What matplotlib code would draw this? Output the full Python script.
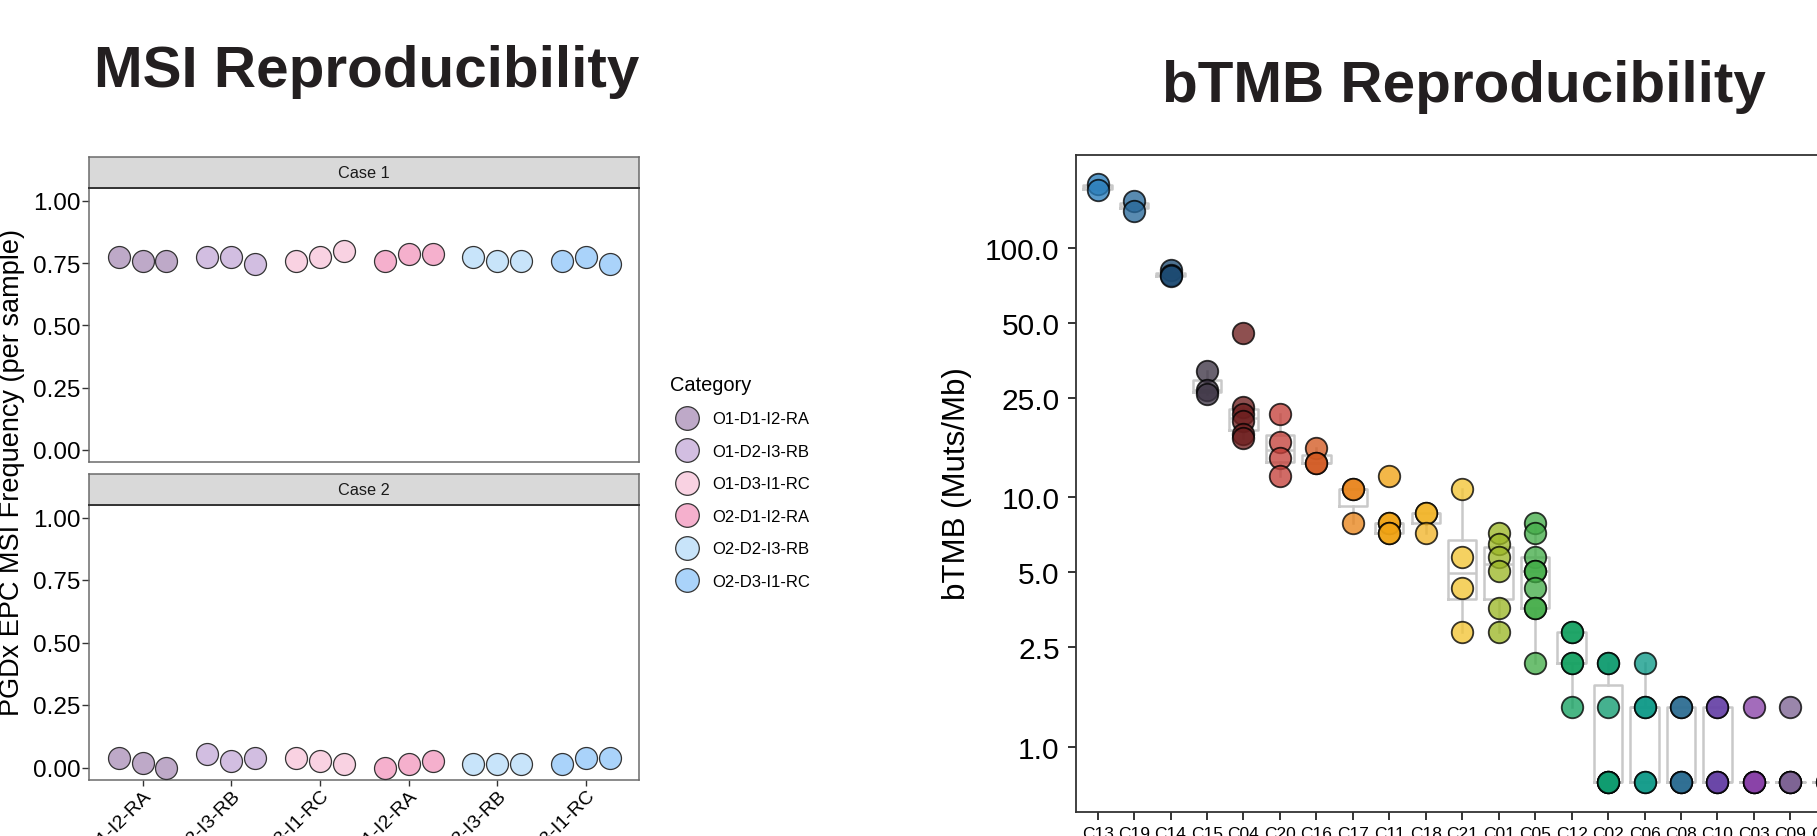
import numpy as np
import matplotlib
matplotlib.use("Agg")
import matplotlib.pyplot as plt
from matplotlib import cbook
from matplotlib.lines import Line2D

plt.rcParams['font.family'] = ['Liberation Sans', 'DejaVu Sans']

W, H, DPI = 1817, 837, 100

# ---- MSI data ----
msi_categories = ['O1-D1-I2-RA', 'O1-D2-I3-RB', 'O1-D3-I1-RC',
                  'O2-D1-I2-RA', 'O2-D2-I3-RB', 'O2-D3-I1-RC']
msi_colors = ['#BEA9C8', '#D2BEE1', '#F9D2E2', '#F5B0CD', '#C8E4FA', '#AAD3FA']
case1_values = [[0.773, 0.760, 0.760],
                [0.773, 0.773, 0.747],
                [0.760, 0.773, 0.800],
                [0.760, 0.787, 0.787],
                [0.773, 0.760, 0.760],
                [0.760, 0.773, 0.747]]
case2_values = [[0.040, 0.020, 0.000],
                [0.053, 0.027, 0.040],
                [0.040, 0.027, 0.013],
                [0.000, 0.013, 0.027],
                [0.013, 0.013, 0.013],
                [0.013, 0.040, 0.040]]
msi_yticks = [0.0, 0.25, 0.5, 0.75, 1.0]

# ---- bTMB data ----
tmb_cases = ['C13', 'C19', 'C14', 'C15', 'C04', 'C20', 'C16', 'C17', 'C11', 'C18', 'C21',
             'C01', 'C05', 'C12', 'C02', 'C06', 'C08', 'C10', 'C03', 'C09', 'C07']
tmb_values = [
    [180.7, 170.6],
    [154.8, 141.1],
    [81.4, 77.8, 77.0],
    [32.2, 27.0, 26.0],
    [45.4, 23.0, 21.6, 20.2, 18.0, 17.3],
    [21.6, 16.6, 14.4, 12.2],
    [15.8, 13.7, 13.7],
    [10.8, 10.8, 7.9],
    [12.2, 7.9, 7.9, 7.2, 7.2],
    [8.64, 8.64, 7.2],
    [10.8, 5.76, 4.32, 2.88],
    [7.2, 6.48, 5.76, 5.04, 3.6, 2.88],
    [7.92, 7.2, 5.76, 5.04, 5.04, 4.32, 3.6, 3.6, 2.16],
    [2.88, 2.88, 2.16, 2.16, 1.44],
    [2.16, 2.16, 1.44, 0.72, 0.72, 0.72, 0.72],
    [2.16, 1.44, 1.44, 0.72, 0.72],
    [1.44, 1.44, 0.72, 0.72, 0.72],
    [1.44, 1.44, 0.72, 0.72, 0.72],
    [1.44, 0.72, 0.72, 0.72, 0.72],
    [1.44, 0.72, 0.72, 0.72, 0.72],
    [0.72, 0.72],
]
tmb_colors = ['#2A7EBB', '#2A6A9C', '#1C4A72', '#3E3545', '#6E1F1F', '#C4413B', '#D35A22',
              '#E8851C', '#F0A314', '#F2B52A', '#F3C535', '#9DB828', '#45AE4A', '#16A262',
              '#109C70', '#0E9A88', '#2F6F93', '#6A46A8', '#8A43A8', '#7E6494', '#4B3B5F']
tmb_yticks = [1.0, 2.5, 5.0, 10.0, 25.0, 50.0, 100.0]


def rect(x0, y0, x1, y1):
    # pixel box (top-left origin) -> figure fraction
    return [x0 / W, 1 - y1 / H, (x1 - x0) / W, (y1 - y0) / H]


fig = plt.figure(figsize=(W / DPI, H / DPI), dpi=DPI)

# ---------------- MSI panels ----------------
frame_col = '#6b6b6b'
offsets = np.array([-0.27, 0.0, 0.27])
panels = [(case1_values, 'Case 1', 157.7, 189.3, 463.3),
          (case2_values, 'Case 2', 475.0, 506.0, 781.0)]
for k, (vals, name, s_top, p_top, p_bot) in enumerate(panels):
    ax = fig.add_axes(rect(89.3, p_top, 639.3, p_bot))
    for i, v in enumerate(vals):
        ax.scatter(i + offsets, v, s=250, color=msi_colors[i], edgecolor='#333333',
                   linewidth=0.9, zorder=3)
    ax.set_xlim(-0.6, len(msi_categories) - 0.4)
    ax.set_ylim(-0.05, 1.05)
    ax.set_yticks(msi_yticks)
    ax.set_yticklabels(['%.2f' % t for t in msi_yticks])
    ax.tick_params(axis='y', labelsize=17.5, length=5, width=1, color='#333333', pad=1.5)
    for sp in ax.spines.values():
        sp.set_color(frame_col)
        sp.set_linewidth(1.1)
    if k == 0:
        ax.set_xticks([])
    else:
        ax.set_xticks(range(len(msi_categories)))
        ax.set_xticklabels(msi_categories, rotation=45, ha='right', va='top',
                           rotation_mode='anchor', fontsize=14)
        ax.tick_params(axis='x', length=4, width=1, color='#333333', pad=1)
    st = fig.add_axes(rect(89.3, s_top, 639.3, p_top))
    st.set_facecolor('#D9D9D9')
    st.set_xticks([])
    st.set_yticks([])
    for sp in st.spines.values():
        sp.set_color(frame_col)
        sp.set_linewidth(1.1)
    st.spines['bottom'].set_color('#333333')
    st.spines['bottom'].set_linewidth(1.4)
    st.text(0.5, 0.5, name, ha='center', va='center', fontsize=11.7, color='#1a1a1a',
            transform=st.transAxes)

fig.text(12 / W, 1 - 472 / H, 'PGDx EPC MSI Frequency (per sample)', rotation=90,
         ha='center', va='center', fontsize=19.5)

handles = [Line2D([], [], marker='o', linestyle='none', markersize=17,
                  markerfacecolor=c, markeredgecolor='#333333', markeredgewidth=0.9)
           for c in msi_colors]
fig.legend(handles, msi_categories, title='Category', loc='upper left',
           bbox_to_anchor=(670 / W, 1 - 376 / H), frameon=False, fontsize=12,
           title_fontsize=14.4, labelspacing=1.05, handletextpad=0.55,
           borderaxespad=0, borderpad=0, alignment='left')

fig.text(366.5 / W, 1 - 87 / H, 'MSI Reproducibility', ha='center', va='baseline',
         fontsize=42, fontweight='bold', color='#231f20')

# ---------------- bTMB panel ----------------
ax3 = fig.add_axes(rect(1075.7, 155.7, 1848.7, 812.7))
ax3.set_yscale('log')
pos = np.arange(len(tmb_cases))
stats = []
for v in tmb_values:
    s = cbook.boxplot_stats(np.log10(v))[0]
    for key in ('med', 'q1', 'q3', 'whislo', 'whishi', 'mean', 'cilo', 'cihi'):
        s[key] = 10 ** s[key]
    s['fliers'] = []
    stats.append(s)
box_col = '#c9c9c9'
ax3.bxp(stats, positions=pos, widths=0.78, showfliers=False, showcaps=False,
        boxprops=dict(color=box_col, linewidth=1.8),
        whiskerprops=dict(color=box_col, linewidth=1.8),
        medianprops=dict(color=box_col, linewidth=1.8))
for i, v in enumerate(tmb_values):
    ax3.scatter(np.full(len(v), i), v, s=240, color=tmb_colors[i], alpha=0.78,
                edgecolor='black', linewidth=1.3, zorder=3)
ax3.set_xlim(-0.6, len(tmb_cases) - 0.4)
ax3.set_ylim(0.548, 236.6)
ax3.set_yticks(tmb_yticks)
ax3.set_yticklabels(['%.1f' % t for t in tmb_yticks])
ax3.yaxis.set_minor_locator(matplotlib.ticker.NullLocator())
ax3.set_xticks(pos)
ax3.set_xticklabels(tmb_cases)
ax3.tick_params(axis='y', labelsize=21.5, length=6, width=1.4, color='#333333', pad=5.5)
ax3.tick_params(axis='x', labelsize=12.5, length=6, width=1.4, color='#333333', pad=4)
for sp in ax3.spines.values():
    sp.set_color('#333333')
    sp.set_linewidth(1.3)

fig.text(957 / W, 1 - 484 / H, 'bTMB (Muts/Mb)', rotation=90, ha='center', va='center',
         fontsize=22.5)
fig.text(1463.5 / W, 1 - 101.7 / H, 'bTMB Reproducibility', ha='center', va='baseline',
         fontsize=42, fontweight='bold', color='#231f20')

fig.savefig('out.png', dpi=DPI)
